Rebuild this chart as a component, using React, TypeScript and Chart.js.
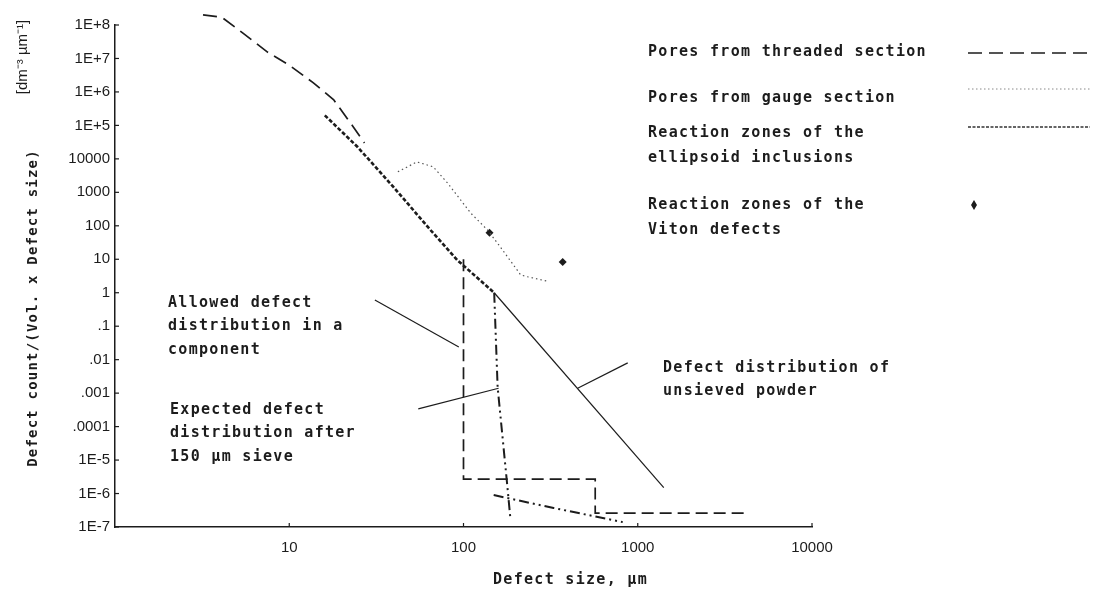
import React, { useEffect, useRef } from "react";
import { Chart, registerables } from "chart.js";
Chart.register(...registerables);

// ---- axis ticks ----
const yTickValues = [1e8, 1e7, 1e6, 1e5, 1e4, 1e3, 100, 10, 1, 0.1, 0.01, 0.001, 0.0001, 1e-5, 1e-6, 1e-7];
const yTickLabels = ["1E+8", "1E+7", "1E+6", "1E+5", "10000", "1000", "100", "10", "1", ".1", ".01", ".001", ".0001", "1E-5", "1E-6", "1E-7"];
const xTickValues = [10, 100, 1000, 10000];
const xTickLabels = ["10", "100", "1000", "10000"];

// ---- series ----
const threadedX = [3.2, 4.1, 5.4, 7.5, 10, 13.7, 18, 23, 27];
const threadedY = [2e8, 1.7e8, 5.8e7, 1.55e7, 6.3e6, 1.9e6, 5.8e5, 1.0e5, 3.0e4];

const gaugeX = [42, 54, 67, 81, 110, 137, 163, 213, 233, 304];
const gaugeY = [4100, 8100, 5800, 1900, 240, 76, 23, 3.4, 3.0, 2.2];

const ellipsoidX = [16, 24.6, 39.6, 64.6, 92, 150];
const ellipsoidY = [2.0e5, 2.3e4, 1450, 75, 9.5, 1];

const vitonX = [141, 371];
const vitonY = [62, 8.3];

const unsievedX = [150, 1410];
const unsievedY = [1, 1.5e-6];

const allowedX = [100, 100, 570, 570, 4300];
const allowedY = [10, 2.7e-6, 2.7e-6, 2.6e-7, 2.6e-7];

const expectedX = [150, 157, 177, 186];
const expectedY = [1, 1.5e-3, 2.6e-6, 1.7e-7];
const expectedTailX = [149, 329, 820];
const expectedTailY = [9e-7, 3.7e-7, 1.4e-7];

// leader lines of the annotations
const leaderAllowedX = [31, 94];
const leaderAllowedY = [0.61, 0.024];
const leaderExpectedX = [55, 159];
const leaderExpectedY = [3.4e-4, 1.4e-3];
const leaderUnsievedX = [452, 876];
const leaderUnsievedY = [1.4e-3, 8e-3];

const legendItems = [
  { lines: ["Pores from threaded section"], y: 52 },
  { lines: ["Pores from gauge section"], y: 98 },
  { lines: ["Reaction zones of the", "ellipsoid inclusions"], y: 133 },
  { lines: ["Reaction zones of the", "Viton defects"], y: 205 },
];
const annotations = [
  { lines: ["Allowed defect", "distribution in a", "component"], x: 168, y: 303 },
  { lines: ["Expected defect", "distribution after", "150 µm sieve"], x: 170, y: 410 },
  { lines: ["Defect distribution of", "unsieved powder"], x: 663, y: 368 },
];
const xTitle = "Defect size, µm";
const yTitle = "Defect count/(Vol. x Defect size)";
const yUnit = "[dm⁻³ µm⁻¹]";

const pts = (xs: number[], ys: number[]) => xs.map((x, i) => ({ x, y: ys[i] }));

const INK = "#1c1c1c";
const MONO = 'bold 15px "DejaVu Sans Mono"';

const textPlugin = {
  id: "textPlugin",
  afterDraw(chart: any) {
    const ctx = chart.ctx as CanvasRenderingContext2D;
    const xs = chart.scales.x;
    const ys = chart.scales.y;
    ctx.save();
    // inner tick marks
    ctx.strokeStyle = INK;
    ctx.lineWidth = 1.2;
    yTickValues.forEach((v) => {
      const py = ys.getPixelForValue(v);
      ctx.beginPath();
      ctx.moveTo(xs.left, py);
      ctx.lineTo(xs.left + 4, py);
      ctx.stroke();
    });
    xTickValues.forEach((v) => {
      const px = xs.getPixelForValue(v);
      ctx.beginPath();
      ctx.moveTo(px, ys.bottom);
      ctx.lineTo(px, ys.bottom - 4);
      ctx.stroke();
    });

    // legend samples
    const sx0 = 968, sx1 = 1090;
    ctx.lineWidth = 1.6;
    ctx.strokeStyle = INK;
    ctx.setLineDash([14, 7]);
    ctx.beginPath(); ctx.moveTo(sx0, 53); ctx.lineTo(sx1, 53); ctx.stroke();
    ctx.lineWidth = 1;
    ctx.strokeStyle = "#888";
    ctx.setLineDash([1.5, 2.5]);
    ctx.beginPath(); ctx.moveTo(sx0, 89); ctx.lineTo(sx1, 89); ctx.stroke();
    ctx.lineWidth = 1.4;
    ctx.strokeStyle = "#333";
    ctx.setLineDash([3, 1.5]);
    ctx.beginPath(); ctx.moveTo(sx0, 127); ctx.lineTo(sx1, 127); ctx.stroke();
    ctx.setLineDash([]);
    ctx.fillStyle = INK;
    ctx.beginPath();
    ctx.moveTo(974, 200); ctx.lineTo(977, 205); ctx.lineTo(974, 210); ctx.lineTo(971, 205);
    ctx.closePath(); ctx.fill();

    // texts
    ctx.fillStyle = INK;
    ctx.font = MONO;
    (ctx as any).letterSpacing = "1.3px";
    ctx.textBaseline = "middle";
    ctx.textAlign = "left";
    legendItems.forEach((it) => {
      it.lines.forEach((l, i) => ctx.fillText(l, 648, it.y + i * 25));
    });
    annotations.forEach((a) => {
      a.lines.forEach((l, i) => ctx.fillText(l, a.x, a.y + i * 23.5));
    });
    ctx.fillText(xTitle, 493, 580);

    // y titles
    ctx.save();
    ctx.translate(33, 308);
    ctx.rotate(-Math.PI / 2);
    ctx.textAlign = "center";
    (ctx as any).letterSpacing = "1.2px";
    ctx.font = 'bold 14px "DejaVu Sans Mono"';
    ctx.fillText(yTitle, 0, 0);
    ctx.restore();
    ctx.save();
    ctx.translate(23, 57);
    ctx.rotate(-Math.PI / 2);
    ctx.textAlign = "center";
    (ctx as any).letterSpacing = "0px";
    ctx.font = '15px "Liberation Sans"';
    ctx.fillText(yUnit, 0, 0);
    ctx.restore();
    ctx.restore();
  },
};

export default function App() {
  const ref = useRef<HTMLCanvasElement | null>(null);
  useEffect(() => {
    if (!ref.current) return;
    const line = (data: any, extra: any) => ({
      data,
      showLine: true,
      pointRadius: 0,
      borderColor: INK,
      backgroundColor: INK,
      borderWidth: 1.5,
      fill: false,
      ...extra,
    });
    const chart = new Chart(ref.current, {
      type: "scatter",
      data: {
        datasets: [
          line(pts(threadedX, threadedY), { label: "Pores from threaded section", borderDash: [14, 7], borderWidth: 1.7, clip: false }),
          line(pts(gaugeX, gaugeY), { label: "Pores from gauge section", borderDash: [1.5, 3], borderWidth: 1.2, borderColor: "#555" }),
          line(pts(ellipsoidX, ellipsoidY), { label: "Reaction zones of the ellipsoid inclusions", borderDash: [4, 2], borderWidth: 2.6 }),
          line(pts(unsievedX, unsievedY), { label: "Defect distribution of unsieved powder", borderWidth: 1.2 }),
          line(pts(allowedX, allowedY), { label: "Allowed defect distribution in a component", borderDash: [12, 6], borderWidth: 1.7 }),
          line(pts(expectedX, expectedY), { label: "Expected defect distribution after 150 µm sieve", borderDash: [10, 4, 2, 4, 2, 4], borderWidth: 2 }),
          line(pts(expectedTailX, expectedTailY), { label: "Expected (tail)", borderDash: [10, 4, 2, 4, 2, 4], borderWidth: 2 }),
          line(pts(leaderAllowedX, leaderAllowedY), { label: "leader 1", borderWidth: 1.2 }),
          line(pts(leaderExpectedX, leaderExpectedY), { label: "leader 2", borderWidth: 1.2 }),
          line(pts(leaderUnsievedX, leaderUnsievedY), { label: "leader 3", borderWidth: 1.2 }),
          {
            label: "Reaction zones of the Viton defects",
            data: pts(vitonX, vitonY),
            showLine: false,
            pointStyle: "rectRot",
            pointRadius: 4,
            backgroundColor: INK,
            borderColor: INK,
            borderWidth: 0,
          },
        ],
      },
      options: {
        responsive: false,
        animation: false,
        layout: { padding: { top: 25, right: 284, left: 0, bottom: 0 } },
        plugins: { legend: { display: false }, tooltip: { enabled: false } },
        scales: {
          x: {
            type: "logarithmic",
            min: 1,
            max: 10000,
            afterBuildTicks: (s: any) => {
              s.ticks = xTickValues.map((v) => ({ value: v }));
            },
            afterFit: (s: any) => {
              s.height = 66;
            },
            ticks: {
              autoSkip: false,
              maxRotation: 0,
              padding: 12,
              color: INK,
              font: { family: "Liberation Sans", size: 15 },
              callback: (v: any) => {
                const i = xTickValues.findIndex((t) => Math.abs(Math.log10(t) - Math.log10(Number(v))) < 1e-6);
                return i >= 0 ? xTickLabels[i] : "";
              },
            },
            grid: { display: false, drawTicks: false },
            border: { display: true, color: INK, width: 1.5 },
          },
          y: {
            type: "logarithmic",
            min: 1e-7,
            max: 1e8,
            afterBuildTicks: (s: any) => {
              s.ticks = yTickValues.map((v) => ({ value: v }));
            },
            afterFit: (s: any) => {
              s.width = 115;
            },
            ticks: {
              autoSkip: false,
              padding: 5,
              color: INK,
              font: { family: "Liberation Sans", size: 15 },
              callback: (v: any) => {
                const i = yTickValues.findIndex((t) => Math.abs(Math.log10(t) - Math.log10(Number(v))) < 1e-6);
                return i >= 0 ? yTickLabels[i] : "";
              },
            },
            grid: { display: false, drawTicks: false },
            border: { display: true, color: INK, width: 1.5 },
          },
        },
      },
      plugins: [textPlugin],
    } as any);
    return () => chart.destroy();
  }, []);
  return (
    <div style={{ position: "fixed", left: 0, top: 0, width: 1096, height: 593, background: "#fff" }}>
      <canvas ref={ref} width={1096} height={593} style={{ display: "block" }} />
    </div>
  );
}
